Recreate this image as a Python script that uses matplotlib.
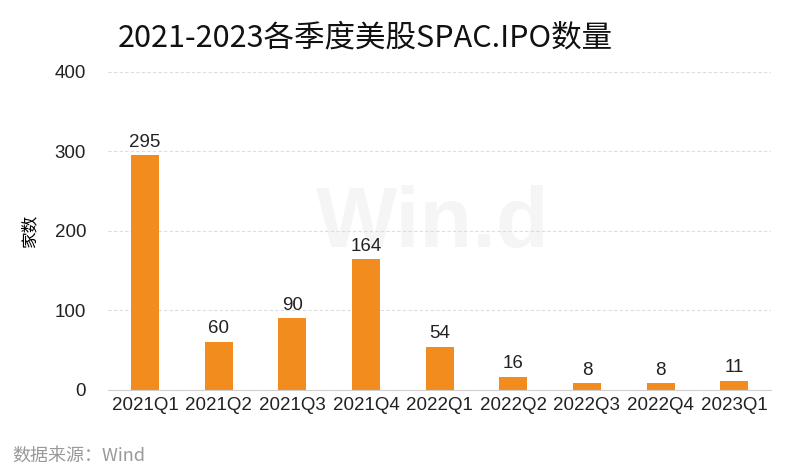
import matplotlib.pyplot as plt

plt.rcParams['font.family'] = ['Liberation Sans', 'Noto Sans CJK SC', 'DejaVu Sans']

quarters = ['2021Q1', '2021Q2', '2021Q3', '2021Q4', '2022Q1',
            '2022Q2', '2022Q3', '2022Q4', '2023Q1']
counts = [295, 60, 90, 164, 54, 16, 8, 8, 11]
yticks = [0, 100, 200, 300, 400]

fig = plt.figure(figsize=(7.9, 4.76), dpi=100)
ax = fig.add_axes([0.137, 0.181, 0.839, 0.668])

bars = ax.bar(quarters, counts, width=0.38, color='#F28C1E', zorder=3)
for b, v in zip(bars, counts):
    ax.text(b.get_x() + b.get_width() / 2, v + 6, str(v),
            ha='center', va='bottom', fontsize=13.5, color='#222222', zorder=4)

ax.set_ylim(0, 400)
ax.set_xlim(-0.5, len(quarters) - 0.5)
ax.set_yticks(yticks)
ax.tick_params(axis='both', length=0, labelsize=13.5, colors='#222222')
ax.tick_params(axis='y', pad=16)
ax.tick_params(axis='x', pad=5)
ax.grid(axis='y', linestyle=(0, (3, 2)), color='#dddddd', linewidth=0.8, zorder=0)
for s in ['top', 'right', 'left']:
    ax.spines[s].set_visible(False)
ax.spines['bottom'].set_color('#d0d0d0')
ax.spines['bottom'].set_zorder(4)

ax.set_ylabel('家数', fontsize=12, family=['Noto Sans CJK SC'], labelpad=12)

# faint watermark
ax.text(0.49, 0.52, 'Win.d', transform=ax.transAxes, fontsize=62, fontweight='bold',
        color='#f5f5f5', ha='center', va='center', zorder=1)

fig.text(0.463, 0.92, '2021-2023各季度美股SPAC.IPO数量', ha='center', va='center',
         fontsize=22, family=['Noto Sans CJK SC'], color='#111111')
fig.text(0.015, 0.043, '数据来源：Wind', ha='left', va='center', fontsize=13,
         color='#999999', family=['Noto Sans CJK SC', 'DejaVu Sans'])

plt.savefig('out.png', dpi=100)
